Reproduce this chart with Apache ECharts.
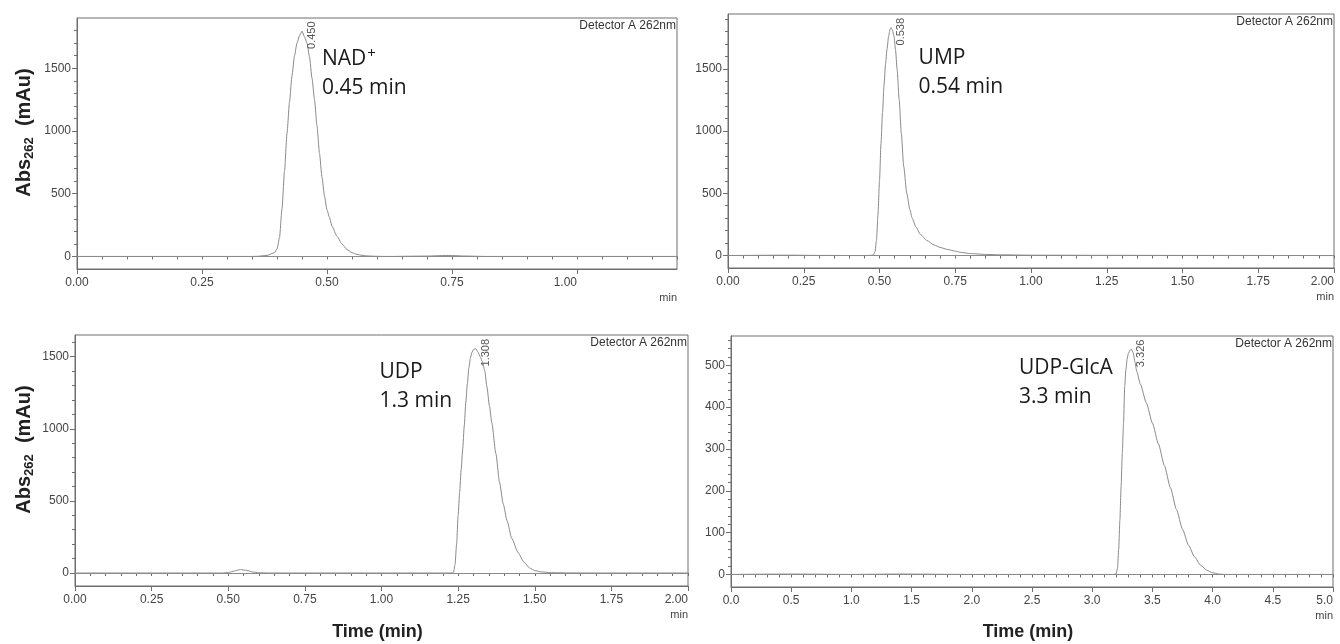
<!DOCTYPE html>
<html><head><meta charset="utf-8">
<script src="https://cdn.jsdelivr.net/npm/echarts@6/dist/echarts.min.js"></script>
<style>html,body{margin:0;padding:0;background:#fff;}#c{width:1340px;height:644px;}</style>
</head><body><div id="c"></div>
<script>
// ---------------- data ----------------
const nadTime = [0,0.1,0.2,0.3,0.35,0.36,0.38,0.395,0.40,0.405,0.41,0.415,0.42,0.425,0.43,0.435,0.44,0.445,0.45,0.455,0.46,0.465,0.47,0.475,0.48,0.485,0.49,0.495,0.50,0.505,0.51,0.52,0.53,0.54,0.55,0.56,0.57,0.58,0.60,0.62,0.70,0.74,0.78,0.82,1.0,1.2];
const nadAbs  = [0,0,0,0,0,1,8,30,60,150,380,680,980,1230,1440,1600,1700,1760,1795,1750,1700,1590,1420,1250,1040,820,630,480,370,310,240,160,100,55,30,16,9,4,1,0,3,8,3,0,0,0];

const umpTime = [0,0.2,0.3,0.45,0.47,0.48,0.485,0.49,0.495,0.50,0.505,0.51,0.515,0.52,0.525,0.53,0.535,0.538,0.542,0.548,0.553,0.558,0.565,0.572,0.58,0.59,0.60,0.608,0.62,0.635,0.657,0.68,0.70,0.726,0.75,0.77,0.80,0.85,0.90,1.0,1.2,1.5,2.0];
const umpAbs  = [0,3,1,0,1,5,30,120,330,600,900,1150,1370,1540,1660,1760,1820,1830,1815,1760,1650,1500,1250,980,715,500,370,300,230,170,120,85,65,48,35,25,16,9,6,3,2,1,0];

const udpTime = [0,0.2,0.4,0.48,0.50,0.52,0.54,0.56,0.58,0.60,0.63,1.0,1.2,1.23,1.235,1.24,1.245,1.25,1.255,1.26,1.265,1.27,1.275,1.28,1.285,1.29,1.295,1.30,1.308,1.315,1.322,1.33,1.337,1.344,1.352,1.36,1.373,1.385,1.397,1.41,1.425,1.446,1.465,1.483,1.50,1.52,1.55,1.60,1.70,2.0];
const udpAbs  = [0,0,0,0,3,14,24,18,7,2,0,0,0,0,5,60,200,400,560,720,860,1020,1180,1310,1420,1490,1530,1550,1555,1530,1500,1460,1400,1290,1160,1040,830,630,480,360,240,140,75,35,17,8,3,1,0,0];

const glcaTime = [0,0.5,1.0,1.4,2.0,3.0,3.18,3.20,3.21,3.22,3.23,3.24,3.25,3.26,3.27,3.28,3.29,3.30,3.315,3.326,3.34,3.355,3.37,3.40,3.45,3.50,3.55,3.60,3.65,3.70,3.75,3.80,3.85,3.90,3.95,4.00,4.05,4.10,5.0];
const glcaAbs  = [0,1,0,1,0,0,0,2,15,60,130,210,290,360,450,490,515,528,537,538,530,508,485,455,410,362,312,260,207,155,108,70,42,22,10,4,1,0,0];

// peak retention labels and compound annotations
const peakTime   = [0.450, 0.538, 1.308, 3.326];
const peakHeight = [1795, 1830, 1555, 538];
const peakLabel  = ['0.450', '0.538', '1.308', '3.326'];
const compound   = ['NAD', 'UMP', 'UDP', 'UDP-GlcA'];
const charge     = ['+', '', '', ''];
const retention  = ['0.45 min', '0.54 min', '1.3 min', '3.3 min'];
const annoAt     = [[0.49, 1689], [0.629, 1703], [0.9935, 1494], [2.392, 528]];

// tick labels
const xTicksShort = [0, 0.25, 0.5, 0.75, 1.0];
const xTicksLong  = [0, 0.25, 0.5, 0.75, 1.0, 1.25, 1.5, 1.75, 2.0];
const xTicksWide  = [0, 0.5, 1.0, 1.5, 2.0, 2.5, 3.0, 3.5, 4.0, 4.5, 5.0];
const yTicksBig   = [0, 500, 1000, 1500];
const yTicksSmall = [0, 100, 200, 300, 400, 500];

const detectorText = 'Detector A 262nm';
const xTitle = 'Time (min)';

// ---------------- layout ----------------
function range(a, b, s) { const r = []; for (let v = a; v <= b + s / 1000; v += s) r.push(Math.round(v * 1000) / 1000); return r; }

const panels = [
  {t: nadTime,  v: nadAbs,  grid: {left: 77,  top: 18,  width: 600, height: 251}, xMin: 0, xMax: 1.2, yMin: -100, yMax: 1900,
   xT: xTicksShort, xMinor: range(0, 1.2, 0.05), yT: yTicksBig, yMinor: range(0, 1800, 100), dec: 2, yTitle: true, xTitle: false},
  {t: umpTime,  v: umpAbs,  grid: {left: 728, top: 14,  width: 606, height: 254}, xMin: 0, xMax: 2.0, yMin: -100, yMax: 1940,
   xT: xTicksLong, xMinor: range(0, 2.0, 0.05), yT: yTicksBig, yMinor: range(0, 1900, 100), dec: 2, yTitle: false, xTitle: false},
  {t: udpTime,  v: udpAbs,  grid: {left: 75,  top: 335, width: 613, height: 251}, xMin: 0, xMax: 2.0, yMin: -90, yMax: 1650,
   xT: xTicksLong, xMinor: range(0, 2.0, 0.05), yT: yTicksBig, yMinor: range(0, 1600, 100), dec: 2, yTitle: true, xTitle: true},
  {t: glcaTime, v: glcaAbs, grid: {left: 731, top: 336, width: 602, height: 251}, xMin: 0, xMax: 5.0, yMin: -30, yMax: 570,
   xT: xTicksWide, xMinor: range(0, 5.0, 0.1), yT: yTicksSmall, yMinor: range(0, 560, 20), dec: 1, yTitle: false, xTitle: true}
];

const AX = '#6e6e6e', LBL = '#444', CURVE = '#8a8a8a';
const labelFont = 'Liberation Sans, Arial, sans-serif';
const annoFont = 'Open Sans, sans-serif';

const grids = [], xAxes = [], yAxes = [], series = [], graphics = [];
panels.forEach((p, i) => {
  grids.push(Object.assign({show: true, borderColor: AX, borderWidth: 1, backgroundColor: '#fff'}, p.grid));
  const dec = p.dec;
  xAxes.push({type: 'value', gridIndex: i, position: 'bottom', min: p.xMin, max: p.xMax,
    axisLine: {show: true, onZero: false, lineStyle: {color: AX}},
    axisTick: {show: true, customValues: p.xT, length: 5, lineStyle: {color: AX}},
    axisLabel: {show: true, customValues: p.xT, formatter: v => v.toFixed(dec), fontSize: 12, color: LBL, fontFamily: labelFont, margin: 8, alignMaxLabel: 'right'},
    splitLine: {show: false}});
  xAxes.push({type: 'value', gridIndex: i, position: 'bottom', offset: 0, min: p.xMin, max: p.xMax,
    axisLine: {show: false}, axisLabel: {show: false}, splitLine: {show: false},
    axisTick: {show: true, customValues: p.xMinor, length: 3, lineStyle: {color: AX}}});
  yAxes.push({type: 'value', gridIndex: i, position: 'left', min: p.yMin, max: p.yMax,
    axisLine: {show: true, onZero: false, lineStyle: {color: AX}},
    axisTick: {show: true, customValues: p.yT, length: 5, lineStyle: {color: AX}},
    axisLabel: {show: true, customValues: p.yT, formatter: v => String(v), fontSize: 12, color: LBL, fontFamily: labelFont, margin: 6},
    splitLine: {show: false}});
  yAxes.push({type: 'value', gridIndex: i, position: 'left', offset: 0, min: p.yMin, max: p.yMax,
    axisLine: {show: false}, axisLabel: {show: false}, splitLine: {show: false},
    axisTick: {show: true, customValues: p.yMinor, length: 3, lineStyle: {color: AX}}});

  const annoLabel = '{n|' + compound[i] + '}' + (charge[i] ? '{p|' + charge[i] + '}' : '') + '\n{n|' + retention[i] + '}';
  series.push({
    type: 'line', xAxisIndex: 2 * i, yAxisIndex: 2 * i,
    data: p.t.map((t, k) => [t, p.v[k]]),
    showSymbol: false, symbol: 'none', smooth: 0.2, smoothMonotone: 'x',
    lineStyle: {color: CURVE, width: 1}, silent: true, animation: false, z: 3,
    markLine: {symbol: 'none', silent: true, animation: false, label: {show: false},
      lineStyle: {color: CURVE, width: 1, type: 'solid'}, data: [{yAxis: 0}]},
    markPoint: {animation: false, silent: true, symbol: 'circle', symbolSize: 1, itemStyle: {color: 'rgba(0,0,0,0)'},
      data: [
        {coord: [peakTime[i], peakHeight[i]], name: peakLabel[i],
         label: {show: true, formatter: peakLabel[i], rotate: 90, position: 'inside', align: 'center', verticalAlign: 'middle',
                 offset: [-4, 10], fontSize: 11, color: '#555', fontFamily: labelFont}},
        {coord: annoAt[i], name: compound[i],
         label: {show: true, formatter: annoLabel, position: 'inside', align: 'left', verticalAlign: 'top',
                 rich: {n: {fontSize: 21, lineHeight: 29, color: '#1a1a1a', fontFamily: annoFont},
                        p: {fontSize: 15, lineHeight: 15, color: '#1a1a1a', fontFamily: annoFont, verticalAlign: 'top', padding: [2, 0, 0, 1]}}}}
      ]}
  });

  const g = p.grid;
  graphics.push({type: 'text', x: g.left + g.width - 1, y: g.top + 2, silent: true,
    style: {text: detectorText, font: '12px ' + labelFont, fill: '#333', align: 'right', verticalAlign: 'top'}});
  graphics.push({type: 'text', x: g.left + g.width, y: g.top + g.height + 23, silent: true,
    style: {text: 'min', font: '11px ' + labelFont, fill: LBL, align: 'right', verticalAlign: 'top'}});
  if (p.yTitle) {
    graphics.push({type: 'text', x: 24, y: g.top + g.height / 2 - 11, rotation: Math.PI / 2, silent: true,
      style: {text: '{b|Abs}{s|262}{b|  (mAu)}', align: 'center', verticalAlign: 'middle',
        rich: {b: {fontSize: 20, fontWeight: 'bold', fontFamily: labelFont, fill: '#222', lineHeight: 22},
               s: {fontSize: 13, fontWeight: 'bold', fontFamily: labelFont, fill: '#222', lineHeight: 14, verticalAlign: 'top', padding: [10, 0, 0, 0]}}}});
  }
  if (p.xTitle) {
    graphics.push({type: 'text', x: g.left + g.width / 2 - 4, y: 632, silent: true,
      style: {text: xTitle, font: 'bold 18px ' + labelFont, fill: '#222', align: 'center', verticalAlign: 'middle'}});
  }
});

const chart = echarts.init(document.getElementById('c'), null, {renderer: 'canvas'});
chart.setOption({
  animation: false, backgroundColor: '#fff',
  grid: grids, xAxis: xAxes, yAxis: yAxes, series: series, graphic: graphics
});
</script></body></html>
